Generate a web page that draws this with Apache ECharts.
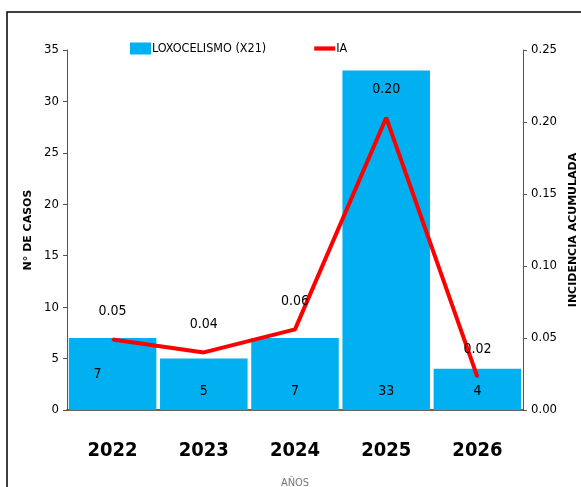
<!DOCTYPE html>
<html><head><meta charset="utf-8">
<script src="https://cdn.jsdelivr.net/npm/echarts@6/dist/echarts.min.js"></script>
<style>html,body{margin:0;padding:0;background:#fff}#c{width:581px;height:487px}</style>
</head><body><div id="c"></div>
<script>
const years = ['2022','2023','2024','2025','2026'];
const casos = [7, 5, 7, 33, 4];
const ia = [0.049, 0.040, 0.056, 0.203, 0.023];
const leftTicks = {min: 0, max: 35, interval: 5};
const rightTicks = {min: 0, max: 0.25, interval: 0.05};

const narrow = '"Liberation Sans Narrow", "DejaVu Sans Condensed", "Arial Narrow", sans-serif';
const chart = echarts.init(document.getElementById('c'), null, {renderer: 'canvas'});
chart.setOption({
  animation: false,
  backgroundColor: '#fff',
  graphic: [{
    type: 'rect', shape: {x: 7, y: 12, width: 600, height: 500},
    style: {fill: 'none', stroke: '#000', lineWidth: 1.5}, silent: true
  }],
  legend: {
    top: 37, left: 125, itemGap: 48, itemWidth: 21, itemHeight: 12,
    textStyle: {fontFamily: narrow, fontWeight: 'condensed', fontSize: 12.5, color: '#000', padding: [0,0,0,-4]},
    data: [
      {name: 'LOXOCELISMO (X21)', icon: 'rect'},
      {name: 'IA', icon: 'path://M0,4 L20,4 L20,8 L0,8 Z'}
    ]
  },
  grid: {left: 67, right: 58, top: 50, bottom: 77, outerBoundsMode: 'none', containLabel: false},
  xAxis: {
    type: 'category', data: years,
    name: 'AÑOS', nameLocation: 'middle', nameGap: 68,
    nameTextStyle: {fontFamily: narrow, fontWeight: 'condensed', fontSize: 11, color: '#777'},
    axisLine: {lineStyle: {color: '#333', width: 1.5}},
    axisTick: {show: false},
    axisLabel: {fontFamily: narrow, fontSize: 20, fontWeight: 'bold condensed', color: '#000', margin: 31}
  },
  yAxis: [{
    type: 'value', ...leftTicks, position: 'left',
    name: 'N° DE CASOS', nameLocation: 'middle', nameGap: 30,
    nameTextStyle: {fontFamily: 'DejaVu Sans', fontSize: 11, fontWeight: 'bold', color: '#000'},
    axisLine: {show: true, lineStyle: {color: '#555'}},
    axisTick: {show: true, length: 4, lineStyle: {color: '#555'}},
    splitLine: {show: false},
    axisLabel: {fontFamily: narrow, fontWeight: 'condensed', fontSize: 13, color: '#000', margin: 8}
  }, {
    type: 'value', ...rightTicks, position: 'right',
    name: 'INCIDENCIA ACUMULADA', nameLocation: 'middle', nameGap: 41, nameRotate: 90,
    nameTextStyle: {fontFamily: 'DejaVu Sans', fontSize: 11, fontWeight: 'bold', color: '#000'},
    axisLine: {show: true, lineStyle: {color: '#555'}},
    axisTick: {show: true, length: 4, lineStyle: {color: '#555'}},
    splitLine: {show: false},
    axisLabel: {fontFamily: narrow, fontWeight: 'condensed', fontSize: 13, color: '#000', margin: 8,
      formatter: v => v.toFixed(2)}
  }],
  series: [{
    name: 'LOXOCELISMO (X21)', type: 'bar', yAxisIndex: 0,
    barCategoryGap: '4%',
    itemStyle: {color: '#00B0F0'},
    label: {show: true, position: 'insideBottom', distance: 12,
      fontFamily: narrow, fontWeight: 'condensed', fontSize: 14, color: '#000'},
    data: casos.map((v, i) => i === 0
      ? {value: v, label: {position: 'inside', offset: [-15, 0]}}
      : v)
  }, {
    name: 'IA', type: 'line', yAxisIndex: 1,
    symbol: 'circle', symbolSize: 2, showSymbol: true,
    lineStyle: {color: '#FF0000', width: 4},
    itemStyle: {color: '#FF0000'},
    label: {show: true, position: 'top', distance: 20,
      fontFamily: narrow, fontWeight: 'condensed', fontSize: 14, color: '#000',
      formatter: p => p.value.toFixed(2)},
    data: ia
  }]
});
</script></body></html>
